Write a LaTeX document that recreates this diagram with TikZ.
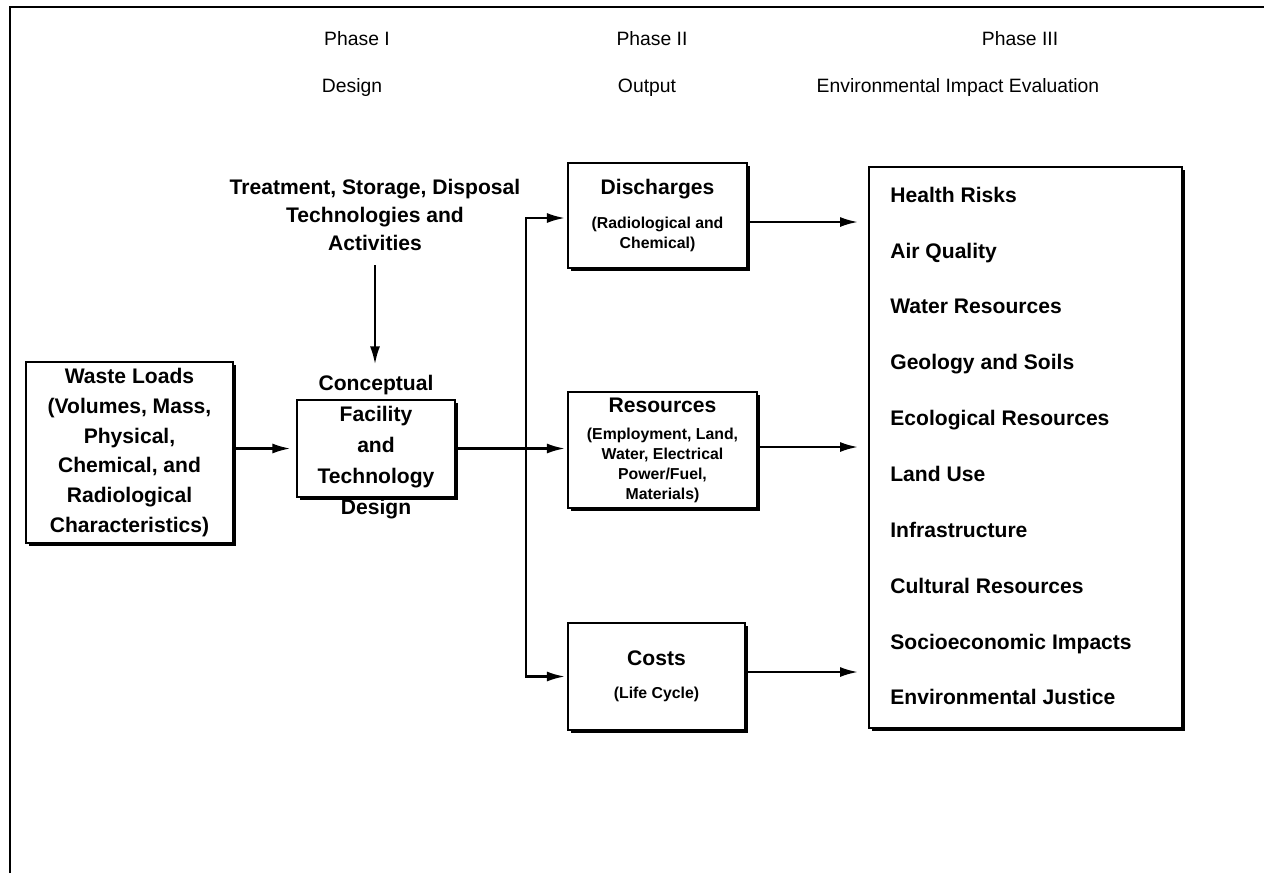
\documentclass[tikz,border=0pt]{standalone}
\usepackage{fontspec}
\setmainfont{Liberation Sans}
\usetikzlibrary{arrows.meta,shadows,calc}
\newcommand{\hdfont}{\fontsize{11}{13}\selectfont}
\newcommand{\subfont}{\fontsize{9}{11.4}\selectfont\bfseries}
\newcommand{\bigfont}{\fontsize{12}{14}\selectfont\bfseries}
\tikzset{
  shbox/.style={draw, line width=1.5pt, fill=white, inner sep=0pt, align=center,
    drop shadow={shadow xshift=1.5pt, shadow yshift=-1.5pt, fill=black, opacity=1}},
  arr/.style={line width=1.3pt, -{Latex[length=3.6mm,width=2mm]}},
  hd/.style={font=\hdfont, inner sep=0pt, anchor=base},
  bx/.style={align=center, inner sep=0pt}
}

\begin{document}
\begin{tikzpicture}[x=0.02cm, y=-0.02cm]
		%%%%% START %%%%%
		\useasboundingbox (0,0) rectangle (1264,873);
		\draw[line width=1.2pt] (10,873) -- (10,7) -- (1264,7);
		
		% phase headings
		\node[hd] (ph1) at (357,45) {Phase I};
		\node[hd] (ph1t) at (352,92) {Design};
		\node[hd] (ph2) at (652,45) {Phase II};
		\node[hd] (ph2t) at (647,92) {Output};
		\node[hd] (ph3) at (1020,45) {Phase III};
		\node[hd] (ph3t) at (958,92) {Environmental Impact Evaluation};
		
		% phase I
		\node[bx, font={\fontsize{12}{16}\selectfont\bfseries}] (tsd) at (375,215)
			{Treatment, Storage, Disposal\\Technologies and\\Activities};
		\node[shbox, minimum width=4.14cm, minimum height=3.62cm,
			font={\fontsize{12}{17}\selectfont\bfseries}] (waste) at (129.5,452.5)
			{Waste Loads\\(Volumes, Mass,\\Physical,\\Chemical, and\\Radiological\\Characteristics)};
		\node[shbox, minimum width=3.16cm, minimum height=1.94cm] (conbox) at (376,448.5) {};
		\node[bx, font={\fontsize{12}{17.6}\selectfont\bfseries}] (contxt) at (376,447)
			{Conceptual\\Facility\\and\\Technology\\Design};
		
		% phase II
		\node[shbox, minimum width=3.58cm, minimum height=2.1cm, font=\subfont] (disbox) at (657.5,215.5)
			{\bigfont Discharges\\[7.5pt]\subfont (Radiological and\\\subfont Chemical)};
		\node[shbox, minimum width=3.78cm, minimum height=2.32cm, font=\subfont] (resbox) at (662.5,450)
			{\bigfont Resources\\[4pt]\subfont (Employment, Land,\\\subfont Water, Electrical\\\subfont Power/Fuel,\\\subfont Materials)};
		\node[shbox, minimum width=3.54cm, minimum height=2.14cm, font=\subfont] (costbox) at (656.5,676.5)
			{\bigfont Costs\\[7.5pt]\subfont (Life Cycle)};
		
		% phase III
		\node[shbox, minimum width=6.26cm, minimum height=11.22cm] (evalbox) at (1025.5,447.5) {};
		\node[anchor=west, align=left, inner sep=0pt, font={\fontsize{12}{31.8}\selectfont\bfseries}] (evaltxt) at (890,446)
			{Health Risks\\Air Quality\\Water Resources\\Geology and Soils\\Ecological Resources\\Land Use\\Infrastructure\\Cultural Resources\\Socioeconomic Impacts\\Environmental Justice};
		
		% arrows
		\draw[arr, shorten <=8pt, shorten >=6pt] (tsd.south) -- (tsd.south |- contxt.north);
		\draw[arr, shorten >=3pt] (waste.east |- conbox) -- (conbox.west);
		\coordinate (fork) at (526,448.5);
		\draw[arr, shorten >=1pt] (conbox.east) -- (conbox.east -| resbox.west);
		\coordinate (disin) at ($(disbox.west)+(0,2.5)$);
		\draw[arr, shorten >=1pt] (fork) |- (disin);
		\draw[arr, shorten >=1pt] (fork) |- (costbox.west);
		\coordinate (disout) at ($(disbox.east)+(0,6.5)$);
		\coordinate (resout) at ($(resbox.east)+(0,-3)$);
		\coordinate (costout) at ($(costbox.east)+(0,-4.5)$);
		\draw[arr, shorten >=5.5pt] (disout) -- (disout -| evalbox.west);
		\draw[arr, shorten >=5.5pt] (resout) -- (resout -| evalbox.west);
		\draw[arr, shorten >=5.5pt] (costout) -- (costout -| evalbox.west);
		
		%%%%% END %%%%%
\end{tikzpicture}
\end{document}
